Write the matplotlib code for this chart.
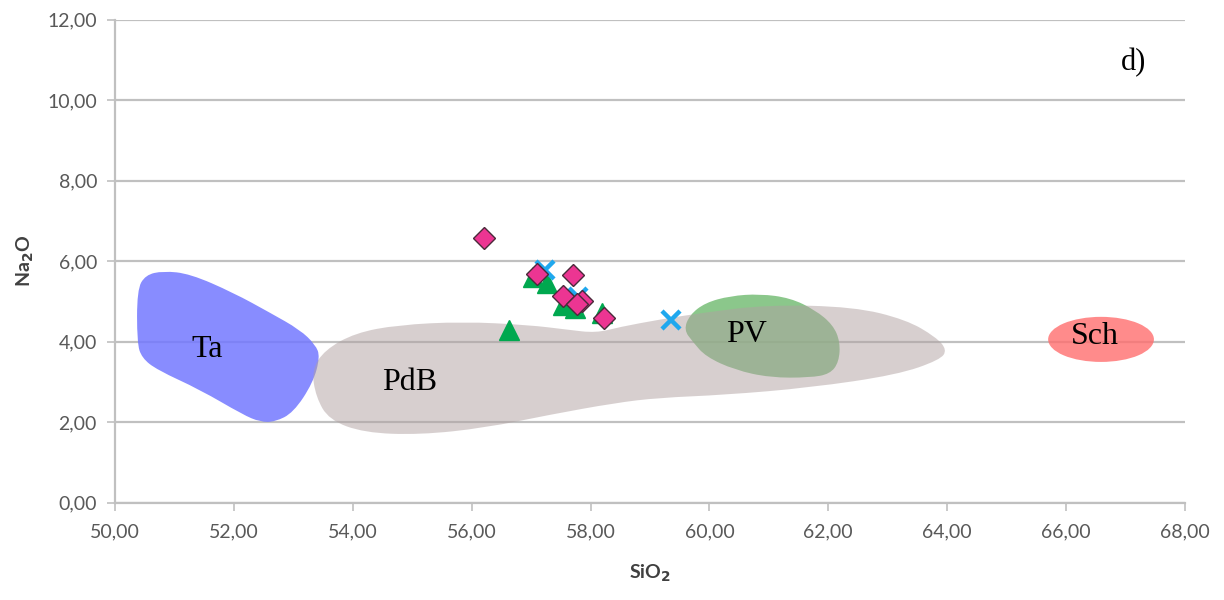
import numpy as np
import matplotlib.pyplot as plt
from matplotlib.path import Path
from matplotlib.patches import PathPatch, Ellipse

# sample points (SiO2, Na2O)
tri_x = [56.63, 57.04, 57.26, 57.54, 57.74, 58.20]
tri_y = [4.30, 5.61, 5.47, 4.92, 4.84, 4.72]

cross_x = [57.24, 57.79, 59.36]
cross_y = [5.79, 5.12, 4.55]

dia_x = [56.21, 57.10, 57.71, 57.54, 57.85, 57.78, 58.22]
dia_y = [6.58, 5.69, 5.66, 5.14, 5.02, 4.94, 4.60]

# field outlines
ta_x = [50.37, 50.37, 50.51, 50.81, 51.26, 51.99, 52.61, 53.11, 53.37, 53.45,
        53.33, 53.00, 52.69, 52.44, 52.15, 51.43, 50.71, 50.45]
ta_y = [3.98, 5.29, 5.66, 5.76, 5.69, 5.22, 4.72, 4.30, 3.93, 3.63,
        2.98, 2.24, 2.01, 2.01, 2.19, 2.81, 3.30, 3.60]

pdb_x = [53.31, 53.38, 53.60, 54.19, 55.13, 56.22, 57.32, 58.41, 59.15, 60.25,
         61.69, 63.16, 63.88, 64.00, 63.81, 63.31, 62.43, 60.97, 59.88, 59.15,
         58.50, 58.09, 57.62, 56.95, 55.85, 54.76, 54.04, 53.53]
pdb_y = [3.30, 2.63, 2.06, 1.74, 1.69, 1.86, 2.19, 2.48, 2.61, 2.68,
         2.86, 3.18, 3.55, 3.80, 4.12, 4.55, 4.87, 4.92, 4.72, 4.55,
         4.37, 4.22, 4.30, 4.42, 4.50, 4.42, 4.22, 3.80]

pv_x = [59.57, 59.67, 59.93, 60.35, 60.85, 61.36, 61.78, 62.08, 62.20, 62.18,
        62.03, 61.69, 61.02, 60.43, 59.94, 59.72]
pv_y = [4.30, 4.67, 4.97, 5.14, 5.19, 5.09, 4.79, 4.42, 4.00, 3.50,
        3.20, 3.11, 3.11, 3.30, 3.63, 4.00]

sch_center = (66.59, 4.06)
sch_w, sch_h = 1.78, 1.12

xticks = np.arange(50, 69, 2)
yticks = np.arange(0, 13, 2)


def smooth_patch(xs, ys, **kw):
    # closed quadratic B-spline through the midpoints of the outline points
    pts = np.column_stack([xs, ys])
    nxt = np.roll(pts, -1, axis=0)
    mids = (pts + nxt) / 2.0
    verts = [mids[-1]]
    codes = [Path.MOVETO]
    for p, m in zip(pts, mids):
        verts += [p, m]
        codes += [Path.CURVE3, Path.CURVE3]
    verts.append(mids[-1])
    codes.append(Path.CLOSEPOLY)
    return PathPatch(Path(verts, codes), **kw)


def fmt(v):
    return f"{v:.2f}".replace(".", ",")


fig = plt.figure(figsize=(12.24, 6), dpi=100)
ax = fig.add_axes([0.094, 0.162, 0.874, 0.805])

grid_c = "#c0c0c0"
ax.set_xlim(50, 68)
ax.set_ylim(0, 12)
ax.set_xticks(xticks)
ax.set_yticks(yticks)
ax.set_xticklabels([fmt(v) for v in xticks])
ax.set_yticklabels([fmt(v) for v in yticks])
ax.yaxis.grid(True, color=grid_c, lw=1.6, zorder=0)
ax.set_axisbelow(True)
for s in ["top", "right"]:
    ax.spines[s].set_visible(False)
for s in ["left", "bottom"]:
    ax.spines[s].set_color(grid_c)
    ax.spines[s].set_linewidth(1.6)
ax.tick_params(axis="both", colors=grid_c, width=1.2, length=6,
               labelcolor="#595959", labelsize=14)
ax.tick_params(axis="y", pad=7)
ax.tick_params(axis="x", pad=9)
for lab in ax.get_xticklabels() + ax.get_yticklabels():
    lab.set_family(["Lato", "DejaVu Sans"])

# fields
ax.add_patch(smooth_patch(ta_x, ta_y, facecolor=(0.45, 0.47, 1.0), alpha=0.85,
                          edgecolor="none", zorder=2))
ax.add_patch(smooth_patch(pv_x, pv_y, facecolor=(0.43, 0.73, 0.43), alpha=0.8,
                          edgecolor="none", zorder=2))
ax.add_patch(smooth_patch(pdb_x, pdb_y, facecolor=(0.69, 0.63, 0.63), alpha=0.5,
                          edgecolor="none", zorder=3))
ax.add_patch(Ellipse(sch_center, sch_w, sch_h, facecolor=(1.0, 0.43, 0.43),
                     alpha=0.8, edgecolor="none", zorder=2))

# samples
ax.plot(tri_x, tri_y, ls="none", marker="^", ms=14, color="#00a84f",
        mec="#00a84f", zorder=5)
ax.plot(cross_x, cross_y, ls="none", marker="x", ms=13, mew=3.2,
        color="#1fa8ee", zorder=6)
ax.plot(dia_x, dia_y, ls="none", marker="D", ms=11, color="#ec3592",
        mec="#4a2a3a", mew=1.0, zorder=7)

# field names
serif = ["Liberation Serif", "DejaVu Serif"]
for name, (x, y) in {"Ta": (51.55, 3.80), "PdB": (54.95, 3.0),
                     "PV": (60.62, 4.17), "Sch": (66.49, 4.12)}.items():
    ax.text(x, y, name, fontsize=23, family=serif, ha="center", va="center",
            zorder=8)
ax.text(67.13, 10.93, "d)", fontsize=22, family=serif, ha="center",
        va="center", zorder=8)

ax.set_xlabel(r"SiO$_\mathbf{2}$", fontsize=14, fontweight="bold",
              color="#404040", family=["Lato", "DejaVu Sans"], labelpad=16)
ax.set_ylabel(r"Na$_\mathbf{2}$O", fontsize=14, fontweight="bold",
              color="#404040", family=["Lato", "DejaVu Sans"], labelpad=8)

fig.savefig("out.png", dpi=100)
